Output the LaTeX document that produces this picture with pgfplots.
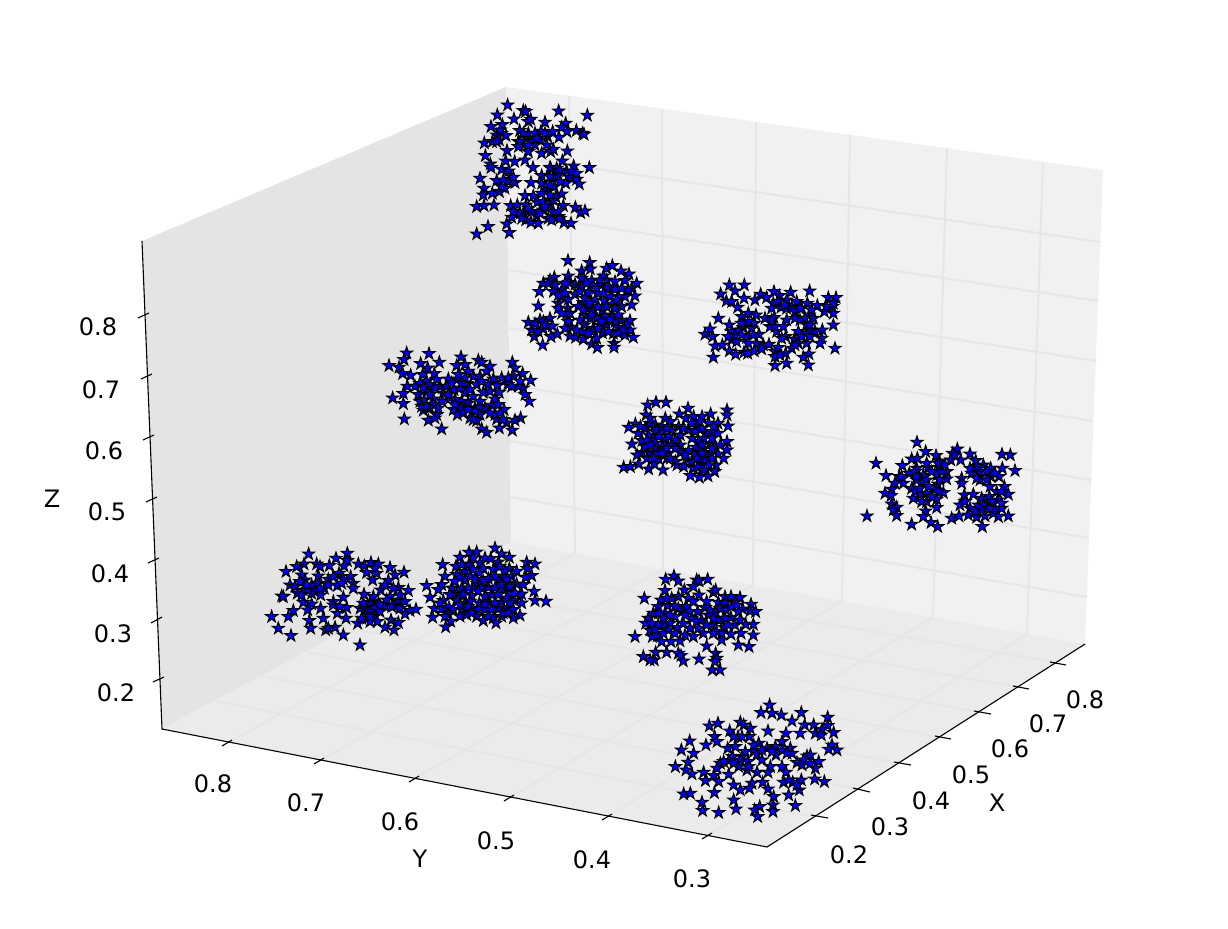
\documentclass[border=0pt]{standalone}
\usepackage{fontspec}
\setmainfont{DejaVu Sans}
\usepackage{pgfplots}
\pgfplotsset{compat=1.18}
\pgfdeclareplotmark{fstar}{%
  \pgfpathmoveto{\pgfpointpolar{90}{\pgfplotmarksize}}%
  \pgfpathlineto{\pgfpointpolar{126}{0.382\pgfplotmarksize}}%
  \pgfpathlineto{\pgfpointpolar{162}{\pgfplotmarksize}}%
  \pgfpathlineto{\pgfpointpolar{198}{0.382\pgfplotmarksize}}%
  \pgfpathlineto{\pgfpointpolar{234}{\pgfplotmarksize}}%
  \pgfpathlineto{\pgfpointpolar{270}{0.382\pgfplotmarksize}}%
  \pgfpathlineto{\pgfpointpolar{306}{\pgfplotmarksize}}%
  \pgfpathlineto{\pgfpointpolar{342}{0.382\pgfplotmarksize}}%
  \pgfpathlineto{\pgfpointpolar{18}{\pgfplotmarksize}}%
  \pgfpathlineto{\pgfpointpolar{54}{0.382\pgfplotmarksize}}%
  \pgfpathclose
  \pgfusepathqfillstroke}
\definecolor{paneL}{HTML}{E4E4E4}
\definecolor{paneR}{HTML}{F1F1F1}
\definecolor{paneF}{HTML}{EBEBEB}
\definecolor{gridc}{HTML}{E6E6E6}
\pgfplotsset{
  pane/.style={draw=none,no markers,forget plot},
  gl/.style={draw=gridc,line width=1pt,no markers,forget plot},
  ax/.style={draw=black,line width=0.55pt,no markers,forget plot},
  pts/.style={only marks,mark=fstar,mark size=3.2pt,mark options={fill=blue,draw=black,line width=0.5pt},forget plot},
}
\newcommand{\lab}[3]{\node[font=\fontsize{12}{14}\selectfont,inner sep=0pt] at (axis cs:#1,#2) {#3};}
\begin{document}
\begin{tikzpicture}
\begin{axis}[
  scale only axis,width=614pt,height=464pt,
  xmin=0,xmax=1228,ymin=0,ymax=928,y dir=reverse,
  axis lines=none,clip=false]
% canvas
\addplot[fill=white,pane] coordinates {(0,0)(1228,0)(1228,928)(0,928)} --cycle;
% panes
\addplot[fill=paneL,pane] coordinates {(142,241)(506,87)(511,542)(162,729)} --cycle;
\addplot[fill=paneR,pane] coordinates {(506,87)(1103,170)(1085,644)(511,542)} --cycle;
\addplot[fill=paneF,pane] coordinates {(162,729)(511,542)(1085,644)(767,847)} --cycle;
% right pane grid
\addplot[gl] coordinates {(507,156)(1100,242)};
\addplot[gl] coordinates {(507,213)(1098,301)};
\addplot[gl] coordinates {(508,270)(1096,361)};
\addplot[gl] coordinates {(509,328)(1093,421)};
\addplot[gl] coordinates {(509,385)(1091,480)};
\addplot[gl] coordinates {(510,441)(1089,538)};
\addplot[gl] coordinates {(510.5,497)(1087,597)};
\addplot[gl] coordinates {(569,96)(575,553)};
\addplot[gl] coordinates {(662,109)(663,569)};
\addplot[gl] coordinates {(756,122)(753,585)};
\addplot[gl] coordinates {(850,135)(842,601)};
\addplot[gl] coordinates {(947,148)(933,617)};
\addplot[gl] coordinates {(1043,162)(1027,634)};
% floor grid
\addplot[gl] coordinates {(227,743)(575,553)};
\addplot[gl] coordinates {(319,761)(663,569)};
\addplot[gl] coordinates {(414,779)(753,585)};
\addplot[gl] coordinates {(509,798)(842,601)};
\addplot[gl] coordinates {(607,817)(933,617)};
\addplot[gl] coordinates {(707,836)(1027,634)};
\addplot[gl] coordinates {(814,817)(215,701)};
\addplot[gl] coordinates {(858,789)(262,676)};
\addplot[gl] coordinates {(899,763)(307,652)};
\addplot[gl] coordinates {(940,737)(350,629)};
\addplot[gl] coordinates {(979,712)(391,606)};
\addplot[gl] coordinates {(1018,687)(431,585)};
\addplot[gl] coordinates {(1055,662)(470,564)};
% axes lines
\addplot[ax] coordinates {(142,241)(162,729)(767,847)(1085,644)};
% z ticks
\addplot[ax] coordinates {(138,318)(149,313)};
\addplot[ax] coordinates {(141,379)(152,374)};
\addplot[ax] coordinates {(143,440)(154,435)};
\addplot[ax] coordinates {(146,502)(157,497)};
\addplot[ax] coordinates {(148,563)(159,558)};
\addplot[ax] coordinates {(151,623)(162,617)};
\addplot[ax] coordinates {(153,682)(164,677)};
% y ticks
\addplot[ax] coordinates {(222,746)(232,740)};
\addplot[ax] coordinates {(314,764)(324,758)};
\addplot[ax] coordinates {(409,782)(419,776)};
\addplot[ax] coordinates {(504,801)(514,795)};
\addplot[ax] coordinates {(602,820)(612,814)};
\addplot[ax] coordinates {(702,839)(712,833)};
% x ticks
\addplot[ax] coordinates {(811,815)(828,818)};
\addplot[ax] coordinates {(853,788)(870,792)};
\addplot[ax] coordinates {(894,762)(911,765)};
\addplot[ax] coordinates {(935,736)(951,739)};
\addplot[ax] coordinates {(974,711)(991,714)};
\addplot[ax] coordinates {(1013,686)(1029,689)};
\addplot[ax] coordinates {(1050,662)(1066,665)};
% labels
\lab{1085}{700}{0.8}\lab{1048}{724}{0.7}\lab{1010}{749}{0.6}\lab{971}{775}{0.5}\lab{931}{801}{0.4}\lab{890}{827}{0.3}\lab{849}{855}{0.2}
\lab{997}{803}{X}
\lab{213}{784}{0.8}\lab{306}{803}{0.7}\lab{400}{822}{0.6}\lab{496}{841}{0.5}\lab{592}{860}{0.4}\lab{692}{879}{0.3}
\lab{420}{859}{Y}
\lab{98}{327}{0.8}\lab{101}{390}{0.7}\lab{104}{451}{0.6}\lab{107}{512}{0.5}\lab{110}{574}{0.4}\lab{113}{634}{0.3}\lab{116}{693}{0.2}
\lab{52}{499}{Z}
% cluster 1
\addplot[pts] table[header=false,row sep=\\,x expr=\thisrowno{0}/3+460,y expr=\thisrowno{1}/3+90] {
143 45\\190 62\\197 65\\296 63\\382 76\\112 75\\162 87\\205 95\\212 88\\255 97\\317 100\\93 110\\127 104\\179 122\\243 124\\305 112\\349 122\\368 130\\372 133\\321 125\\110 135\\125 130\\138 137\\97 155\\73 159\\118 150\\175 155\\200 145\\218 155\\263 140\\278 125\\297 142\\190 165\\205 185\\245 190\\272 185\\280 178\\322 183\\141 182\\76 197\\91 222\\93 233\\137 213\\164 215\\195 210\\219 233\\272 235\\307 213\\341 228\\388 233\\125 238\\146 243\\320 243\\60 265\\110 272\\152 268\\165 278\\245 257\\282 262\\330 262\\350 268\\358 282\\317 280\\213 278\\245 280\\72 295\\70 315\\97 310\\118 305\\135 295\\260 300\\283 290\\195 317\\220 318\\305 312\\288 322\\50 350\\72 347\\102 345\\152 347\\172 345\\198 345\\232 337\\268 345\\310 347\\346 352\\362 368\\375 363\\155 382\\193 372\\230 378\\250 360\\265 385\\295 380\\140 402\\84 410\\50 432\\148 428\\197 390\\213 397\\235 400\\275 390\\312 398\\333 400\\300 385\\270 232\\285 262\\145 275\\270 260\\180 155\\225 165\\205 130\\260 165\\180 370\\215 365\\250 335\\280 330\\190 130\\225 130\\240 150\\175 170\\205 165\\230 145\\255 130\\110 155\\120 120\\290 235\\295 255\\300 275\\270 285\\335 245\\300 240\\350 250\\125 290\\160 262\\245 310\\270 315\\255 350\\205 355\\160 365\\240 370\\280 365\\295 365\\185 385\\130 270\\
};
% cluster 2
\addplot[pts] table[header=false,row sep=\\,x expr=\thisrowno{0}/3+515,y expr=\thisrowno{1}/3+250] {
159 32\\224 38\\226 57\\200 63\\275 55\\292 47\\318 63\\342 72\\265 78\\275 90\\330 92\\365 100\\118 82\\105 90\\85 100\\160 78\\162 98\\200 85\\230 92\\180 103\\235 108\\258 105\\280 112\\300 118\\350 115\\73 125\\140 120\\180 133\\220 128\\250 130\\330 140\\360 138\\350 165\\70 168\\130 160\\160 148\\205 158\\240 150\\268 152\\292 162\\130 175\\158 175\\235 180\\262 182\\320 170\\105 205\\75 210\\40 217\\165 190\\212 197\\245 205\\290 195\\345 212\\50 240\\85 237\\112 228\\170 232\\208 225\\235 235\\275 225\\310 232\\335 225\\58 260\\70 245\\108 260\\127 252\\165 258\\182 262\\205 268\\232 245\\262 248\\295 250\\330 255\\355 262\\83 285\\230 282\\247 293\\297 280\\297 292\\195 210\\160 215\\225 205\\255 225\\300 215\\320 210\\245 265\\270 200\\190 170\\215 175\\140 140\\100 100\\200 110\\310 140\\285 140\\120 105\\115 125\\150 100\\130 135\\150 130\\195 125\\210 145\\225 160\\250 170\\275 170\\300 175\\305 150\\340 120\\320 115\\245 115\\205 180\\230 195\\260 215\\285 208\\310 195\\200 245\\220 250\\250 235\\280 245\\310 250\\150 235\\185 240\\155 190\\140 190\\85 215\\60 222\\90 225\\345 240\\325 240\\265 130\\255 90\\215 100\\300 95\\
};
% cluster 3
\addplot[pts] table[header=false,row sep=\\,x expr=\thisrowno{0}/3+695,y expr=\thisrowno{1}/3+275] {
103 30\\148 30\\77 57\\120 48\\94 78\\110 80\\147 70\\128 97\\180 75\\197 58\\215 68\\237 50\\253 62\\287 52\\344 48\\400 68\\423 68\\275 75\\305 80\\337 85\\367 92\\290 97\\258 97\\235 85\\412 95\\388 110\\415 115\\70 130\\140 125\\160 115\\183 120\\237 128\\275 135\\342 120\\355 130\\315 135\\103 150\\45 162\\30 178\\53 185\\110 170\\145 158\\178 145\\192 178\\155 188\\130 165\\245 170\\265 155\\335 148\\415 150\\360 170\\382 165\\335 175\\380 190\\375 205\\298 192\\272 185\\110 195\\125 200\\60 213\\82 210\\185 205\\205 210\\222 208\\335 205\\290 220\\420 220\\55 247\\103 228\\122 238\\147 232\\158 235\\178 228\\200 222\\240 230\\250 218\\272 235\\342 237\\325 247\\240 272\\275 265\\340 270\\240 245\\310 170\\225 155\\170 160\\210 130\\300 110\\320 100\\120 180\\100 185\\140 180\\160 140\\175 180\\140 145\\230 100\\275 100\\300 130\\330 130\\350 105\\345 165\\320 185\\345 185\\240 155\\260 190\\310 205\\230 135\\160 205\\345 150\\315 100\\250 80\\270 90\\395 95\\415 85\\300 210\\255 240\\
};
% cluster 4
\addplot[pts] table[header=false,row sep=\\,x expr=\thisrowno{0}/3+380,y expr=\thisrowno{1}/3+343] {
80 30\\147 32\\72 50\\27 68\\57 73\\122 62\\178 58\\243 42\\295 52\\305 58\\397 58\\330 70\\405 75\\143 75\\255 65\\230 68\\68 92\\92 97\\128 95\\163 92\\205 108\\230 110\\265 85\\280 100\\320 85\\340 108\\402 100\\428 92\\452 112\\120 122\\82 130\\180 130\\260 122\\290 125\\325 125\\352 128\\383 125\\430 135\\415 130\\70 152\\38 165\\115 155\\142 145\\190 150\\222 140\\310 148\\358 148\\435 155\\448 175\\70 182\\120 175\\132 172\\160 168\\187 175\\245 175\\280 160\\345 168\\265 180\\300 175\\335 187\\130 202\\150 195\\220 200\\245 195\\372 200\\170 215\\232 215\\270 225\\300 215\\350 228\\73 228\\145 232\\165 225\\290 233\\380 240\\422 225\\405 232\\185 258\\358 255\\397 262\\305 258\\320 268\\345 215\\225 170\\210 165\\200 130\\255 150\\140 115\\300 100\\365 105\\105 130\\130 135\\150 125\\165 135\\150 155\\125 190\\160 185\\205 155\\240 135\\270 140\\245 120\\215 120\\305 115\\330 145\\355 185\\315 195\\285 195\\250 210\\330 210\\300 195\\285 205\\265 200\\170 110\\385 105\\420 115\\395 130\\255 105\\235 95\\140 190\\175 195\\280 230\\360 210\\225 185\\370 230\\
};
% cluster 5
\addplot[pts] table[header=false,row sep=\\,x expr=\thisrowno{0}/3+612,y expr=\thisrowno{1}/3+390] {
107 45\\132 37\\162 37\\228 55\\345 60\\345 75\\102 75\\202 72\\160 85\\175 95\\222 85\\245 80\\270 80\\296 72\\262 95\\290 100\\318 100\\348 108\\50 112\\70 102\\100 115\\113 100\\130 105\\200 110\\228 120\\255 112\\78 130\\150 125\\178 120\\205 135\\280 130\\318 130\\110 135\\125 148\\90 152\\60 162\\162 148\\260 155\\345 155\\150 170\\178 165\\205 165\\295 160\\310 170\\345 180\\90 188\\112 188\\128 175\\160 190\\205 188\\230 182\\252 172\\275 175\\295 188\\318 192\\75 195\\140 207\\165 205\\190 215\\228 210\\282 200\\335 205\\80 222\\35 232\\55 230\\110 237\\127 222\\153 240\\240 218\\262 215\\280 210\\312 225\\245 235\\258 232\\308 245\\235 257\\262 262\\288 258\\195 225\\130 125\\240 145\\170 140\\100 170\\300 125\\215 230\\115 85\\135 120\\85 110\\105 150\\140 140\\150 110\\190 150\\165 115\\250 125\\270 115\\305 110\\275 145\\300 145\\130 160\\115 165\\165 175\\190 175\\270 165\\325 165\\300 175\\135 190\\105 205\\150 190\\220 195\\250 195\\300 205\\270 190\\215 115\\240 100\\175 205\\255 205\\290 225\\275 240\\125 205\\
};
% cluster 6
\addplot[pts] table[header=false,row sep=\\,x expr=\thisrowno{0}/3+855,y expr=\thisrowno{1}/3+430] {
186 37\\212 65\\307 57\\345 72\\441 73\\466 75\\63 100\\480 122\\293 70\\243 77\\170 87\\187 85\\253 93\\142 107\\185 115\\220 113\\255 112\\287 90\\317 90\\362 92\\385 105\\407 115\\442 115\\93 137\\133 140\\163 130\\205 135\\245 135\\275 125\\350 130\\375 125\\408 140\\432 140\\145 160\\200 157\\248 162\\275 147\\320 145\\375 150\\320 160\\110 178\\90 190\\170 175\\238 180\\265 188\\405 170\\448 170\\425 185\\108 197\\175 205\\195 195\\215 190\\328 195\\355 193\\380 205\\403 200\\460 193\\110 222\\125 232\\115 240\\215 215\\245 208\\315 225\\345 235\\370 225\\428 210\\395 230\\440 235\\212 243\\245 233\\125 257\\205 260\\290 265\\312 258\\340 255\\365 262\\430 260\\460 258\\390 258\\415 250\\228 278\\248 290\\170 283\\382 290\\36 258\\180 185\\300 75\\365 145\\440 220\\185 150\\180 125\\215 150\\230 125\\260 125\\255 150\\195 175\\220 170\\250 185\\230 200\\200 215\\185 140\\140 140\\120 160\\365 110\\395 125\\420 130\\395 150\\345 115\\385 225\\410 215\\420 235\\380 240\\440 185\\405 235\\250 100\\270 105\\215 100\\330 215\\360 245\\
};
% cluster 7
\addplot[pts] table[header=false,row sep=\\,x expr=\thisrowno{0}/3+260,y expr=\thisrowno{1}/3+540] {
146 42\\262 40\\228 55\\262 62\\132 72\\110 80\\170 72\\180 80\\208 77\\252 78\\295 72\\313 78\\333 68\\355 72\\390 83\\432 97\\78 95\\125 105\\175 108\\205 118\\237 100\\272 110\\320 98\\350 100\\405 105\\135 120\\250 118\\338 120\\385 122\\90 135\\105 140\\155 135\\165 155\\193 145\\232 137\\280 130\\362 150\\415 143\\445 152\\65 168\\112 160\\155 160\\182 165\\312 163\\390 170\\130 187\\155 192\\220 185\\250 172\\330 187\\355 190\\415 180\\435 185\\182 205\\220 195\\260 203\\300 205\\320 210\\375 198\\402 197\\450 212\\468 208\\143 210\\100 212\\85 230\\35 230\\190 235\\232 220\\258 235\\345 228\\320 235\\435 222\\148 242\\293 250\\330 245\\352 245\\393 240\\415 248\\55 265\\152 265\\197 270\\225 262\\205 265\\375 262\\402 270\\93 287\\250 285\\300 315\\305 235\\130 150\\340 205\\280 145\\245 130\\400 145\\70 170\\175 130\\180 145\\145 150\\140 135\\120 125\\345 205\\330 215\\360 215\\380 180\\395 200\\420 205\\340 170\\220 110\\240 200\\125 165\\205 135\\330 230\\310 190\\360 195\\375 135\\420 165\\345 85\\
};
% cluster 8
\addplot[pts] table[header=false,row sep=\\,x expr=\thisrowno{0}/3+420,y expr=\thisrowno{1}/3+538] {
225 30\\147 43\\170 42\\245 48\\120 58\\212 62\\268 58\\320 73\\345 78\\68 80\\108 85\\147 78\\180 75\\235 72\\322 92\\75 115\\135 100\\190 92\\220 95\\268 92\\178 105\\248 115\\275 115\\335 113\\318 118\\290 100\\135 128\\205 122\\238 130\\290 138\\20 143\\65 140\\55 155\\95 150\\172 137\\205 148\\250 155\\110 165\\155 172\\195 175\\305 168\\342 160\\30 178\\70 188\\110 188\\215 170\\125 150\\283 188\\345 188\\378 190\\305 195\\178 195\\210 195\\245 192\\43 212\\65 212\\87 208\\100 215\\125 215\\235 212\\262 210\\85 230\\140 230\\170 235\\195 215\\300 232\\280 240\\38 238\\190 248\\245 235\\220 240\\92 250\\228 255\\77 267\\160 150\\270 165\\135 195\\155 210\\265 135\\125 80\\160 60\\195 60\\240 85\\255 100\\160 95\\110 110\\120 120\\150 115\\165 125\\190 130\\225 115\\260 125\\185 150\\225 150\\145 150\\245 140\\270 145\\90 170\\130 170\\175 160\\235 170\\260 180\\285 165\\150 190\\120 200\\195 200\\225 195\\270 195\\145 205\\175 215\\215 215\\250 225\\280 215\\155 225\\120 235\\205 235\\265 225\\105 130\\310 140\\60 195\\75 235\\
};
% cluster 9
\addplot[pts] table[header=false,row sep=\\,x expr=\thisrowno{0}/3+625,y expr=\thisrowno{1}/3+565] {
147 33\\122 43\\160 48\\215 45\\248 43\\222 48\\120 77\\178 75\\205 65\\265 82\\272 75\\58 100\\160 95\\222 90\\300 95\\345 98\\318 95\\108 105\\190 100\\128 122\\100 125\\330 112\\378 118\\280 112\\85 145\\172 135\\218 140\\240 128\\303 135\\353 132\\375 138\\392 140\\272 143\\150 155\\318 158\\70 160\\62 175\\118 178\\100 180\\158 188\\195 190\\230 165\\262 180\\298 188\\330 180\\362 178\\385 178\\135 175\\75 195\\235 205\\290 225\\348 205\\385 210\\318 208\\30 215\\82 215\\97 212\\205 215\\165 228\\138 230\\340 240\\372 245\\245 243\\110 230\\125 262\\92 262\\55 275\\160 265\\168 272\\272 265\\88 285\\75 285\\222 282\\175 288\\275 280\\262 315\\285 315\\270 290\\200 160\\250 150\\120 145\\290 205\\180 210\\140 100\\125 100\\100 145\\115 160\\135 150\\160 130\\185 125\\195 140\\205 110\\245 110\\255 135\\285 130\\300 115\\320 125\\340 140\\280 165\\300 160\\215 170\\175 175\\130 195\\115 205\\245 180\\220 190\\275 200\\310 180\\150 205\\345 165\\335 120\\265 205\\80 175\\90 195\\150 125\\265 160\\180 150\\
};
% cluster 10
\addplot[pts] table[header=false,row sep=\\,x expr=\thisrowno{0}/3+662,y expr=\thisrowno{1}/3+695] {
323 30\\297 53\\330 55\\358 60\\418 53\\497 67\\390 78\\235 82\\168 85\\142 93\\245 90\\428 90\\455 90\\497 92\\265 100\\203 108\\318 108\\372 115\\415 115\\460 115\\480 103\\515 113\\158 125\\228 125\\262 125\\478 120\\83 138\\132 150\\165 140\\290 145\\360 140\\510 150\\58 165\\95 175\\197 160\\220 155\\275 170\\315 160\\340 155\\385 160\\500 163\\525 165\\78 202\\175 205\\212 185\\240 185\\285 178\\342 180\\390 175\\435 183\\40 215\\72 225\\125 232\\165 220\\200 197\\230 215\\258 200\\300 195\\325 215\\360 215\\405 203\\445 180\\470 200\\420 210\\460 220\\90 237\\155 242\\200 238\\255 225\\285 232\\318 232\\372 232\\130 257\\170 260\\270 265\\302 262\\365 262\\392 262\\418 255\\458 252\\487 260\\215 270\\235 285\\262 280\\318 282\\412 285\\65 297\\85 295\\157 293\\335 305\\380 300\\120 322\\215 315\\400 332\\122 347\\222 342\\293 335\\278 345\\333 330\\333 350\\170 353\\287 365\\215 125\\240 125\\300 165\\330 170\\360 165\\375 175\\235 195\\215 205\\260 215\\185 200\\425 195\\445 205\\250 170\\380 255\\405 270\\275 150\\
};
\end{axis}
\end{tikzpicture}
\end{document}
